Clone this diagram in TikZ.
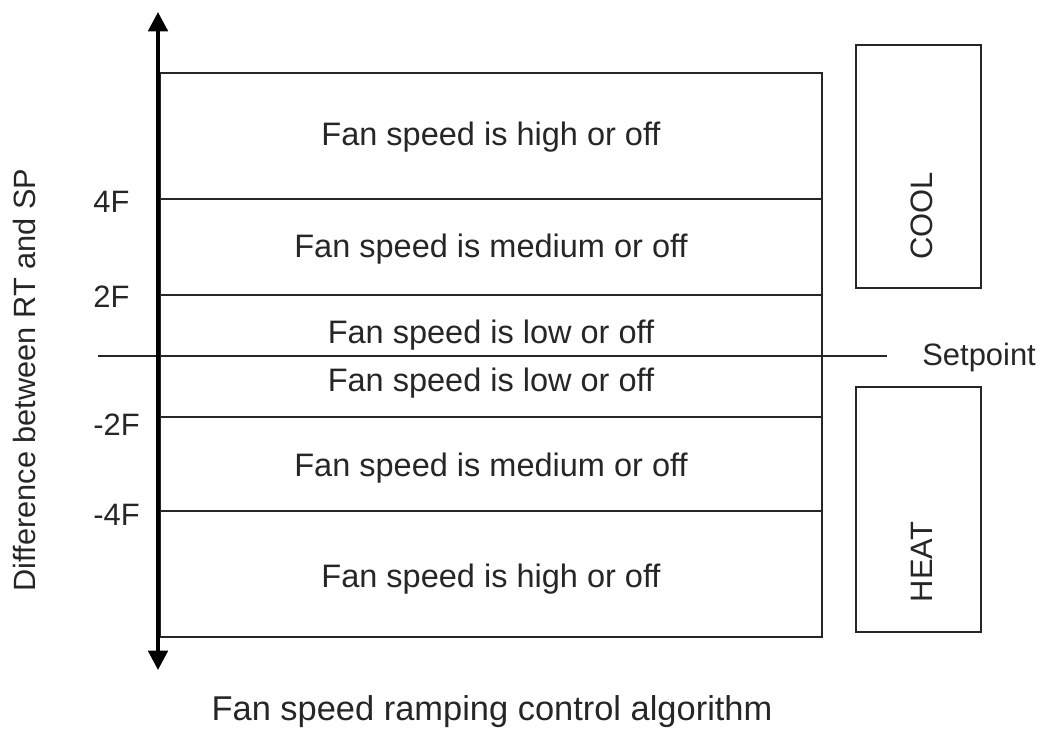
\documentclass[tikz,border=0pt]{standalone}
\usepackage{fontspec}
\setmainfont{Liberation Sans}
\usetikzlibrary{arrows.meta}

\begin{document}
\begin{tikzpicture}[x=0.02cm,y=-0.02cm]
  \useasboundingbox (0,0) rectangle (1049,738);

  \tikzset{band line/.style={draw=black!85, line width=1.1pt},
           axis line/.style={{Triangle[width=11pt,length=11pt]}-{Triangle[width=11pt,length=11pt]}, black, line width=2.2pt},
           band text/.style={anchor=base, inner sep=0pt, text=black!85, font=\fontsize{18.5}{22}\selectfont},
           tick text/.style={anchor=base west, inner sep=0pt, text=black!85, font=\fontsize{17.6}{21}\selectfont},
           mode box/.style={draw=black!85, line width=1.1pt}}

  % frame of the bands and the band borders
  \coordinate (tl) at (160,73);
  \coordinate (br) at (822,637);
  \draw[band line] (tl) rectangle (br);

  \coordinate (p4l) at (160,199);  \coordinate (p4r) at (822,199);
  \coordinate (p2l) at (160,295);  \coordinate (p2r) at (822,295);
  \coordinate (m2l) at (160,417);  \coordinate (m2r) at (822,417);
  \coordinate (m4l) at (160,511);  \coordinate (m4r) at (822,511);
  \draw[band line] (p4l) -- (p4r);
  \draw[band line] (p2l) -- (p2r);
  \draw[band line] (m2l) -- (m2r);
  \draw[band line] (m4l) -- (m4r);

  % setpoint line
  \coordinate (spl) at (98,356);
  \coordinate (spr) at (887,356);
  \draw[band line, line width=1.3pt] (spl) -- (spr);

  % vertical axis
  \coordinate (axtop) at (158,12);
  \coordinate (axbot) at (158,670);
  \draw[axis line] (axbot) -- (axtop);

  % band texts
  \node[band text] (hiup)  at (491,145) {Fan speed is high or off};
  \node[band text] (medup) at (491,257) {Fan speed is medium or off};
  \node[band text] (loup)  at (491,343) {Fan speed is low or off};
  \node[band text] (lodn)  at (491,391) {Fan speed is low or off};
  \node[band text] (meddn) at (491,476) {Fan speed is medium or off};
  \node[band text] (hidn)  at (491,587) {Fan speed is high or off};

  % ticks
  \node[tick text] (t4)  at (93,212) {4F};
  \node[tick text] (t2)  at (93,307) {2F};
  \node[tick text] (tm2) at (93,435) {-2F};
  \node[tick text] (tm4) at (93,525) {-4F};
  \node[tick text] (setpt) at (922,365) {Setpoint};

  % cool and heat boxes
  \draw[mode box] (856,45) rectangle (981,288);
  \draw[mode box] (856,387) rectangle (981,632);
  \node[band text, rotate=90, font=\fontsize{17.6}{21}\selectfont] (cool) at (932,216) {COOL};
  \node[band text, rotate=90, font=\fontsize{17.6}{21}\selectfont] (heat) at (932,562) {HEAT};

  % axis title and caption
  \node[band text, rotate=90, font=\fontsize{17.5}{21}\selectfont] (ytitle) at (35,380) {Difference between RT and SP};
  \node[band text, font=\fontsize{19.6}{23}\selectfont] (caption) at (492,720) {Fan speed ramping control algorithm};

\end{tikzpicture}
\end{document}
